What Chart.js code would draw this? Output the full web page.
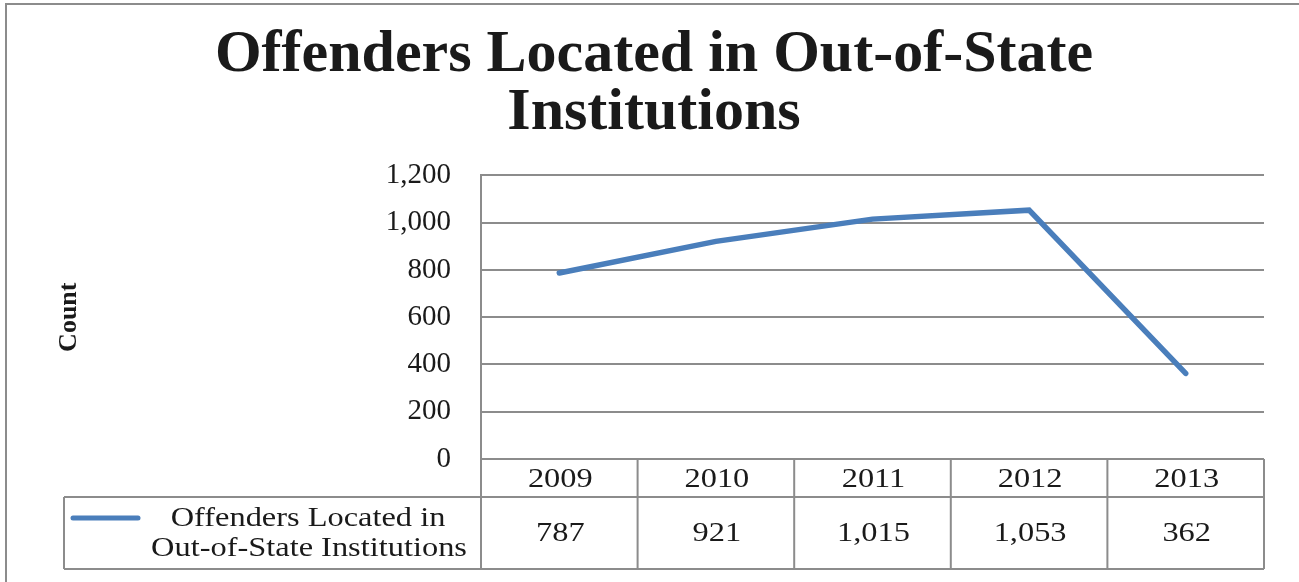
<!DOCTYPE html>
<html>
<head>
<meta charset="utf-8">
<script src="https://cdn.jsdelivr.net/npm/chart.js@4/dist/chart.umd.min.js"></script>
<style>
  body { margin: 0; background: #fff; }
  #wrap { width: 1299px; height: 582px; }
</style>
</head>
<body>
<div id="wrap"><canvas id="offendersChart" width="1299" height="582"></canvas></div>
<script>
// Chart data
const years = ['2009', '2010', '2011', '2012', '2013'];
const offenders = [787, 921, 1015, 1053, 362];
const yTicks = [0, 200, 400, 600, 800, 1000, 1200];
const seriesName = ['Offenders Located in', 'Out-of-State Institutions'];

const lineColor = '#4a7ebb';
const gridColor = '#8c8c8c';
const textColor = '#1a1a1a';
const serif = '"Liberation Serif", "Times New Roman", serif';

const fmt = (v) => v.toLocaleString('en-US');

// the original table text is a little wider than Times, so stretch it a bit
const stretchText = (ctx, text, cx, cy, sx) => {
    ctx.save();
    ctx.translate(cx, cy);
    ctx.scale(sx, 1);
    ctx.fillText(text, 0, 0);
    ctx.restore();
};

// Excel-style data table under the plot, plus the outer frame
const dataTablePlugin = {
    id: 'dataTable',
    afterDraw(chart) {
        const ctx = chart.ctx;
        const x = chart.scales.x;
        const area = chart.chartArea;
        const step = x.getPixelForValue(1) - x.getPixelForValue(0);
        const left = area.left;
        const right = x.getPixelForValue(years.length - 1) + step / 2;
        const top = area.bottom;
        const rowMid = top + 38;
        const bottom = top + 110;
        const legendLeft = 64;

        ctx.save();
        ctx.strokeStyle = gridColor;
        ctx.lineWidth = 2;

        // outer frame
        ctx.beginPath();
        ctx.moveTo(6, 582);
        ctx.lineTo(6, 4);
        ctx.lineTo(1299, 4);
        ctx.stroke();

        ctx.beginPath();
        ctx.moveTo(left, top);
        ctx.lineTo(right, top);
        ctx.moveTo(legendLeft, rowMid);
        ctx.lineTo(right, rowMid);
        ctx.moveTo(legendLeft, bottom);
        ctx.lineTo(right, bottom);
        ctx.moveTo(legendLeft, rowMid);
        ctx.lineTo(legendLeft, bottom);
        for (let i = 0; i <= years.length; i++) {
            const px = left + step * i;
            ctx.moveTo(px, top);
            ctx.lineTo(px, bottom);
        }
        ctx.stroke();

        ctx.fillStyle = textColor;
        ctx.font = '27px ' + serif;
        ctx.textAlign = 'center';
        ctx.textBaseline = 'middle';
        years.forEach((yr, i) => {
            const cx = x.getPixelForValue(i) + 1;
            stretchText(ctx, yr, cx, top + 21, 1.2);
            stretchText(ctx, fmt(offenders[i]), cx, (rowMid + bottom) / 2 + 1, 1.2);
        });

        // legend cell
        stretchText(ctx, seriesName[0], 308, rowMid + 22, 1.2);
        stretchText(ctx, seriesName[1], 309, rowMid + 52, 1.2);
        ctx.strokeStyle = lineColor;
        ctx.lineWidth = 5;
        ctx.lineCap = 'round';
        ctx.beginPath();
        ctx.moveTo(73, rowMid + 21);
        ctx.lineTo(138, rowMid + 21);
        ctx.stroke();
        ctx.restore();
    }
};

const ctx = document.getElementById('offendersChart').getContext('2d');
const offendersChart = new Chart(ctx, {
    type: 'line',
    data: {
        labels: years,
        datasets: [{
            label: seriesName.join(' '),
            data: offenders,
            borderColor: lineColor,
            borderWidth: 5.5,
            pointRadius: 0,
            tension: 0,
            borderCapStyle: 'round',
            borderJoinStyle: 'miter'
        }]
    },
    options: {
        responsive: false,
        animation: false,
        layout: {
            padding: { left: 44, right: 35, top: 0, bottom: 0 }
        },
        plugins: {
            legend: { display: false },
            tooltip: { enabled: false },
            title: {
                display: true,
                text: ['Offenders Located in Out-of-State', 'Institutions'],
                color: textColor,
                font: { family: serif, size: 60, weight: 'bold', lineHeight: 0.97 },
                padding: { top: 26, bottom: 33 }
            }
        },
        scales: {
            x: {
                type: 'category',
                offset: true,
                grid: { display: false },
                border: { display: false },
                ticks: { display: false },
                afterFit: (scale) => { scale.height = 123; }
            },
            y: {
                min: 0,
                max: 1200,
                afterBuildTicks: (scale) => { scale.ticks = yTicks.map(v => ({ value: v })); },
                grid: { color: gridColor, lineWidth: 2, drawTicks: false },
                border: { display: true, color: gridColor, width: 2 },
                ticks: {
                    color: textColor,
                    padding: 30,
                    font: { family: serif, size: 29 },
                    callback: (v) => fmt(v)
                },
                title: {
                    display: true,
                    text: 'Count',
                    color: textColor,
                    padding: { top: 10, bottom: 0 },
                    font: { family: serif, size: 26, weight: 'bold' }
                },
                afterFit: (scale) => { scale.width = 437; }
            }
        }
    },
    plugins: [dataTablePlugin]
});
</script>
</body>
</html>
